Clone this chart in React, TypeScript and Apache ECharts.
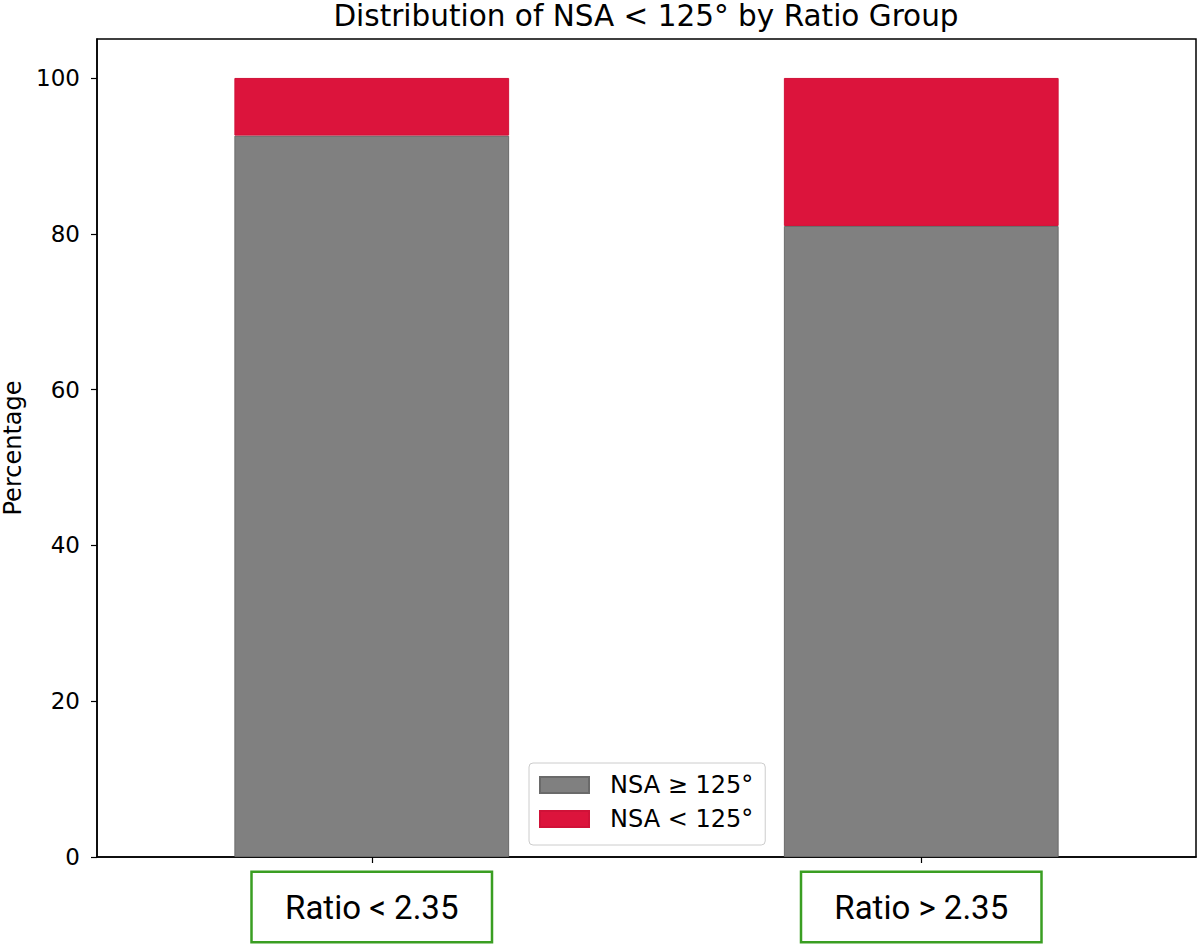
import React, { useEffect, useRef } from "react";
import * as echarts from "echarts";

// Ratio groups on the x axis
const categories = ["Ratio < 2.35", "Ratio > 2.35"];
// Share of cases per group (percent)
const nsaAtLeast125 = [92.6, 81.0];
const nsaBelow125 = [7.4, 19.0];
const yTicks = [0, 20, 40, 60, 80, 100];

const seriesNames = ["NSA \u2265 125\u00b0", "NSA < 125\u00b0"];
const titleText = "Distribution of NSA < 125\u00b0 by Ratio Group";

export default function App() {
  const ref = useRef<HTMLDivElement>(null);

  useEffect(() => {
    if (!ref.current) return;
    const chart = echarts.init(ref.current, null, { renderer: "svg" });
    const font = "DejaVu Sans";
    chart.setOption({
      animation: false,
      backgroundColor: "#ffffff",
      textStyle: { fontFamily: font },
      grid: {
        left: 97,
        right: 4,
        top: 39,
        bottom: 90,
        show: true,
        borderColor: "#000000",
        borderWidth: 1.5,
        containLabel: false,
        outerBoundsMode: "none",
      },
      graphic: [
        {
          type: "text",
          x: 646,
          y: 1,
          style: {
            text: titleText,
            fontFamily: font,
            fontSize: 29.5,
            fill: "#000000",
            align: "center",
            verticalAlign: "top",
          },
        },
      ],
      legend: {
        orient: "vertical",
        left: 529,
        top: 763,
        itemWidth: 49,
        itemHeight: 16,
        itemGap: 10,
        padding: [10, 12, 14, 10],
        borderColor: "#cccccc",
        borderWidth: 1,
        borderRadius: 4,
        backgroundColor: "rgba(255,255,255,0.8)",
        icon: "rect",
        textStyle: {
          fontFamily: font,
          fontSize: 24,
          color: "#000000",
          padding: [0, 0, 0, 16],
        },
        data: seriesNames,
      },
      xAxis: {
        type: "category",
        data: categories,
        boundaryGap: true,
        axisLine: { show: true, lineStyle: { color: "#000000", width: 1.5 } },
        axisTick: {
          show: true,
          alignWithLabel: true,
          length: 6,
          lineStyle: { color: "#000000", width: 1.2 },
        },
        axisLabel: {
          margin: 16,
          fontFamily: "Roboto",
          fontSize: 33,
          color: "#000000",
          width: 238,
          height: 68,
          lineHeight: 68,
          align: "center",
          borderColor: "#3a9e22",
          borderWidth: 2.5,
          backgroundColor: "#ffffff",
        },
      },
      yAxis: {
        type: "value",
        min: 0,
        max: 105,
        interval: 20,
        name: "Percentage",
        nameLocation: "middle",
        nameGap: 72,
        nameRotate: 90,
        nameTextStyle: { fontFamily: font, fontSize: 24, color: "#000000" },
        splitLine: { show: false },
        axisLine: { show: true, lineStyle: { color: "#000000", width: 1.5 } },
        axisTick: {
          show: true,
          length: 6,
          customValues: yTicks,
          lineStyle: { color: "#000000", width: 1.2 },
        },
        axisLabel: {
          customValues: yTicks,
          margin: 17,
          fontFamily: font,
          fontSize: 23,
          color: "#000000",
        },
      },
      series: [
        {
          name: seriesNames[0],
          type: "bar",
          stack: "total",
          barWidth: "50%",
          data: nsaAtLeast125,
          itemStyle: { color: "#808080", borderColor: "#6a6a6a", borderWidth: 1 },
        },
        {
          name: seriesNames[1],
          type: "bar",
          stack: "total",
          barWidth: "50%",
          data: nsaBelow125,
          itemStyle: { color: "#dc143c", borderColor: "#d01238", borderWidth: 1 },
        },
      ],
    });
    return () => chart.dispose();
  }, []);

  return (
    <div
      ref={ref}
      style={{ position: "fixed", left: 0, top: 0, width: 1200, height: 947 }}
    />
  );
}
